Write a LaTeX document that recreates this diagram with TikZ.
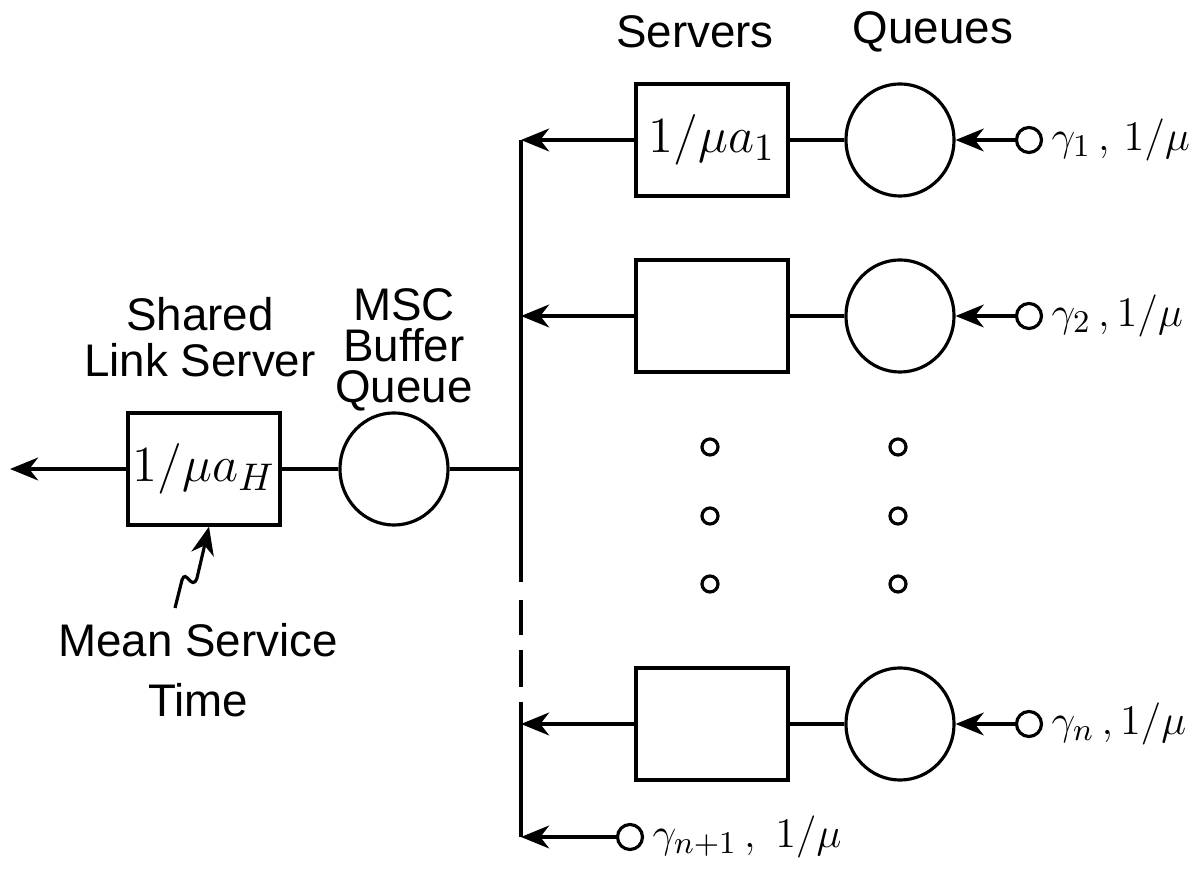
\documentclass[tikz,border=0pt]{standalone}
\usepackage{fontspec}
\setmainfont{Liberation Sans}
\usetikzlibrary{arrows.meta,shapes.geometric}
\tikzset{
  srv/.style={draw, minimum width=1.52cm, minimum height=1.12cm, inner sep=0pt},
  que/.style={draw, ellipse, minimum width=1.08cm, minimum height=1.12cm, inner sep=0pt},
  src/.style={draw, circle, minimum size=0.25cm, inner sep=0pt},
  dot/.style={draw, circle, minimum size=0.16cm, inner sep=0pt},
  lbl/.style={font=\fontsize{13}{15}\selectfont, align=center, inner sep=0pt},
  rate/.style={anchor=west, inner sep=2pt, font=\fontsize{13}{15}\selectfont},
  flow/.style={-{Stealth[length=8pt,width=6.5pt,inset=2.5pt]}},
}
\begin{document}
\begin{tikzpicture}[x=0.01cm, y=-0.01cm, line width=0.9pt, font=\fontsize{15}{18}\selectfont]
  \useasboundingbox (0,0) rectangle (1202,886);
  \node[lbl] (tsrv) at (695,32) {Servers};
  \node[lbl] (tque) at (933,32) {Queues};
  \node[lbl, font=\fontsize{13}{13}\selectfont] (tlink) at (200,337) {Shared\\Link Server};
  \node[lbl, font=\fontsize{13}{11.6}\selectfont] (tmsc) at (404,350) {MSC\\Buffer\\Queue};
  \node[lbl, font=\fontsize{13}{17}\selectfont] (tmean) at (198,670) {Mean Service\\Time};

  \node[srv] (lsrv) at (204,469) {$1/\mu a_H$};
  \node[que] (msc) at (394,469) {};
  \coordinate (out) at (10,469);
  \coordinate (jm) at (521,469);

  \node[srv] (s1) at (712,140) {$1/\mu a_1$};
  \node[que] (q1) at (900,140) {};
  \node[src] (in1) at (1029,140) {};
  \node[rate] at (in1.east) {$\gamma_1\,,\,1/\mu$};
  \node[srv] (s2) at (712,316) {};
  \node[que] (q2) at (900,316) {};
  \node[src] (in2) at (1029,316) {};
  \node[rate] at (in2.east) {$\gamma_2\,,1/\mu$};
  \node[srv] (sn) at (712,724) {};
  \node[que] (qn) at (900,724) {};
  \node[src] (inn) at (1029,724) {};
  \node[rate] at (inn.east) {$\gamma_n\,,1/\mu$};
  \node[src] (innp) at (630,837) {};
  \node[rate] at (innp.east) {$\gamma_{n+1}\,,\ 1/\mu$};

  \foreach \y [count=\i] in {447,516,584} {
    \node[dot] (ds\i) at (710,\y) {};
    \node[dot] (dq\i) at (898,\y) {};
  }

  \coordinate (j1) at (521,140);
  \coordinate (j2) at (521,316);
  \coordinate (jn) at (521,724);
  \coordinate (jnp) at (521,837);
  \coordinate (b1) at (521,582);
  \coordinate (b2) at (521,702);
  \draw (j1) -- (b1);
  \draw[dash pattern=on 0pt off 0.18cm on 0.35cm off 0.15cm on 0.37cm off 0.15cm] (b1) -- (b2);
  \draw (b2) -- (jnp);

  \draw[flow] (lsrv) -- (out);
  \draw (msc) -- (lsrv);
  \draw (jm) -- (msc);
  \draw[flow] (s1) -- (j1);
  \draw[flow] (s2) -- (j2);
  \draw[flow] (sn) -- (jn);
  \draw[flow] (innp) -- (jnp);
  \draw (q1) -- (s1);
  \draw (q2) -- (s2);
  \draw (qn) -- (sn);
  \draw[flow] (in1) -- (q1);
  \draw[flow] (in2) -- (q2);
  \draw[flow] (inn) -- (qn);

  \coordinate (tail) at (175,608);
  \draw[flow] (tail) -- (182,580) .. controls (186,568) and (192,592) .. (197,578) -- (lsrv.south -| 209,0);
\end{tikzpicture}
\end{document}
